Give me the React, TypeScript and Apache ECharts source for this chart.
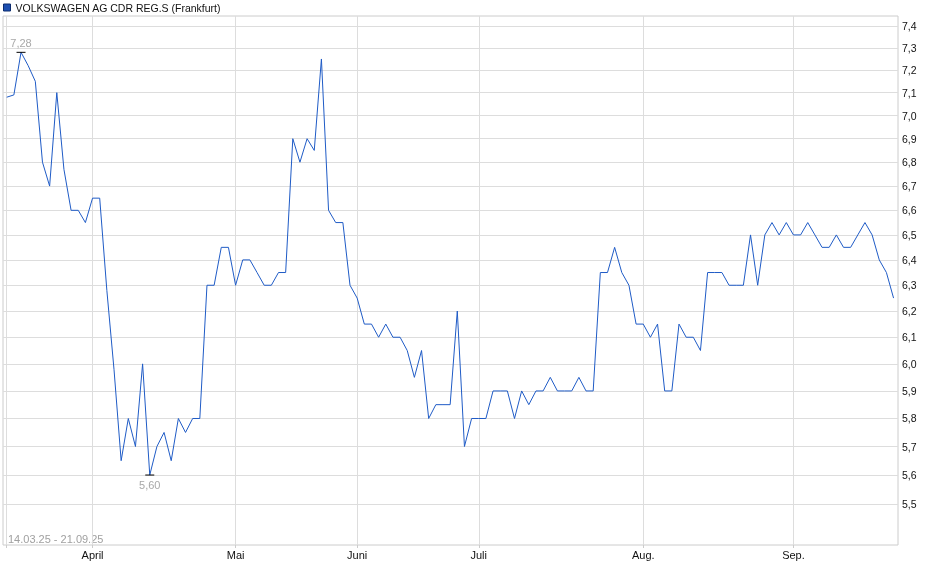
import { useEffect, useRef } from 'react';
import * as echarts from 'echarts';

const seriesName = 'VOLKSWAGEN AG CDR REG.S (Frankfurt)';
const dateRange = '14.03.25 - 21.09.25';

// Schlusskurse, ein Wert je Handelstag mit Kurs
const prices = [
  7.08, 7.09, 7.28, 7.22, 7.15, 6.8, 6.7, 7.1, 6.77, 6.6,
  6.6, 6.55, 6.65, 6.65, 6.28, 5.98, 5.65, 5.8, 5.7, 6.0,
  5.6, 5.7, 5.75, 5.65, 5.8, 5.75, 5.8, 5.8, 6.3, 6.3,
  6.45, 6.45, 6.3, 6.4, 6.4, 6.35, 6.3, 6.3, 6.35, 6.35,
  6.9, 6.8, 6.9, 6.85, 7.25, 6.6, 6.55, 6.55, 6.3, 6.25,
  6.15, 6.15, 6.1, 6.15, 6.1, 6.1, 6.05, 5.95, 6.05, 5.8,
  5.85, 5.85, 5.85, 6.2, 5.7, 5.8, 5.8, 5.8, 5.9, 5.9,
  5.9, 5.8, 5.9, 5.85, 5.9, 5.9, 5.95, 5.9, 5.9, 5.9,
  5.95, 5.9, 5.9, 6.35, 6.35, 6.45, 6.35, 6.3, 6.15, 6.15,
  6.1, 6.15, 5.9, 5.9, 6.15, 6.1, 6.1, 6.05, 6.35, 6.35,
  6.35, 6.3, 6.3, 6.3, 6.5, 6.3, 6.5, 6.55, 6.5, 6.55,
  6.5, 6.5, 6.55, 6.5, 6.45, 6.45, 6.5, 6.45, 6.45, 6.5,
  6.55, 6.5, 6.4, 6.35, 6.25,
];

const yTicks = [
  5.5, 5.6, 5.7, 5.8, 5.9, 6.0, 6.1, 6.2, 6.3, 6.4,
  6.5, 6.6, 6.7, 6.8, 6.9, 7.0, 7.1, 7.2, 7.3, 7.4,
];
const yRange = [5.362, 7.446];

// erster Kurs des Monats (Index in prices)
const monthIndex = [0, 12, 32, 49, 66, 89, 110];
const monthLabels = ['', 'April', 'Mai', 'Juni', 'Juli', 'Aug.', 'Sep.'];

const fontFamily = '"Liberation Sans", Arial, sans-serif';
const comma = (v: number, d: number) => v.toFixed(d).replace('.', ',');

export default function App() {
  const ref = useRef<HTMLDivElement>(null);

  useEffect(() => {
    if (!ref.current) return;
    const chart = echarts.init(ref.current, undefined, { renderer: 'svg' });

    chart.setOption({
      animation: false,
      textStyle: { fontFamily },
      legend: {
        left: 3,
        top: 2,
        padding: 0,
        itemWidth: 7,
        itemHeight: 7,
        itemGap: 5,
        selectedMode: false,
        textStyle: { fontSize: 10.5, color: '#111', fontFamily },
        data: [
          {
            name: seriesName,
            icon: 'rect',
            itemStyle: { color: '#1d4fb0', borderColor: '#0d2c6e', borderWidth: 1 },
          },
        ],
      },
      graphic: [
        {
          type: 'text',
          left: 8,
          top: 533,
          style: { text: dateRange, fill: '#a0a0a0', fontSize: 11, fontFamily },
        },
      ],
      grid: {
        left: 3,
        right: 42,
        top: 16,
        bottom: 34,
        show: true,
        borderColor: '#cccccc',
        borderWidth: 1,
        backgroundColor: 'transparent',
      },
      xAxis: {
        type: 'value',
        min: -0.52,
        max: 124.62,
        axisLine: { show: false },
        axisTick: {
          show: true,
          length: 3,
          lineStyle: { color: '#cccccc' },
          customValues: monthIndex,
        },
        axisLabel: {
          customValues: monthIndex.slice(1),
          margin: 4,
          fontSize: 11,
          color: '#111',
          fontFamily,
          formatter: (v: number) => {
            const k = monthIndex.indexOf(Math.round(v));
            return k >= 0 ? monthLabels[k] : '';
          },
        },
        splitLine: { show: true, lineStyle: { color: '#dddddd', width: 1 } },
      },
      yAxis: {
        type: 'value',
        position: 'right',
        min: Math.log(yRange[0]),
        max: Math.log(yRange[1]),
        axisLine: { show: false },
        axisTick: { show: false, customValues: yTicks.map(Math.log) },
        axisLabel: {
          customValues: yTicks.map(Math.log),
          margin: 4,
          fontSize: 10.5,
          color: '#111',
          fontFamily,
          formatter: (v: number) => comma(Math.exp(v), 1),
        },
        splitLine: { show: true, lineStyle: { color: '#dddddd', width: 1 } },
      },
      series: [
        {
          name: seriesName,
          type: 'line',
          showSymbol: false,
          color: '#1f5bc6',
          lineStyle: { color: '#1f5bc6', width: 1 },
          data: prices.map((p, i) => [i, Math.log(p)]),
          markPoint: {
            symbol: 'rect',
            symbolSize: [9, 1],
            itemStyle: { color: '#000' },
            label: {
              color: '#a8a8a8',
              fontSize: 11,
              fontFamily,
              formatter: (p: any) => comma(Math.exp(p.value), 2),
            },
            data: [
              { type: 'max', label: { position: 'top', distance: 3 } },
              { type: 'min', label: { position: 'bottom', distance: 4 } },
            ],
          },
        },
      ],
    });

    return () => {
      chart.dispose();
    };
  }, []);

  return (
    <div
      ref={ref}
      style={{ position: 'fixed', left: 0, top: 0, width: 940, height: 579 }}
    />
  );
}
